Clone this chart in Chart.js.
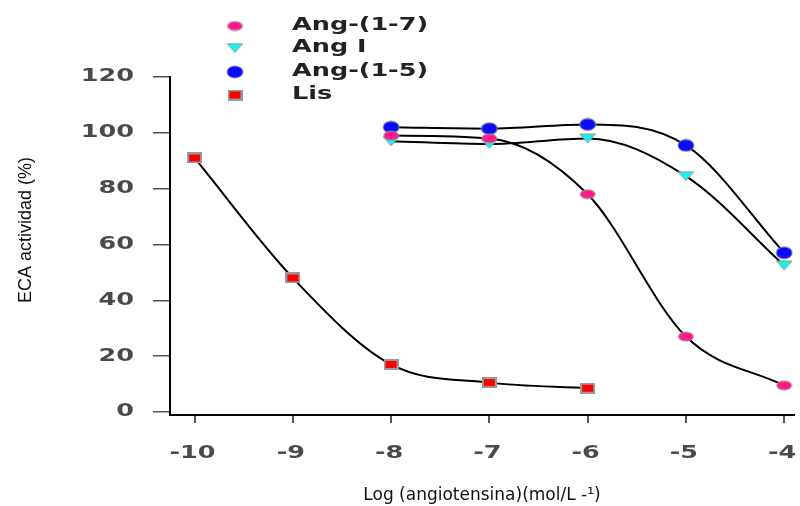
<!DOCTYPE html>
<html>
<head>
<meta charset="utf-8">
<script src="https://cdn.jsdelivr.net/npm/chart.js@4.4.0/dist/chart.umd.min.js"></script>
<style>
  html, body { margin: 0; padding: 0; background: #fff; }
  #wrap { width: 800px; height: 506px; }
</style>
</head>
<body>
<div id="wrap"><canvas id="chart" width="800" height="506"></canvas></div>
<script>
// data
const xTicks = [-10, -9, -8, -7, -6, -5, -4];
const yTicks = [0, 20, 40, 60, 80, 100, 120];

const angDoses = [-8, -7, -6, -5, -4];
const ang17 = [99, 98, 78, 27, 9.5];
const angI = [97, 96, 98, 84.5, 52.5];
const ang15 = [102, 101.5, 103, 95.5, 57];

const lisDoses = [-10, -9, -8, -7, -6];
const lis = [91, 48, 17, 10.5, 8.5];

// the figure is stretched sideways, so text and markers are wide
const SX = 1.5;
const TEXT_FONT = "bold 17px 'DejaVu Sans', Verdana, sans-serif";

// small marker images (wide, like the reference)
function makeMarker(w, h, draw) {
  const c = document.createElement("canvas");
  c.width = w;
  c.height = h;
  const g = c.getContext("2d");
  draw(g, w, h);
  return c;
}
const pinkDot = makeMarker(17, 11, (g, w, h) => {
  g.beginPath();
  g.ellipse(w / 2, h / 2, w / 2 - 1, h / 2 - 1, 0, 0, Math.PI * 2);
  g.fillStyle = "#ff1a8c";
  g.fill();
  g.strokeStyle = "#9a9a9a";
  g.stroke();
});
const cyanTri = makeMarker(18, 11, (g, w, h) => {
  g.beginPath();
  g.moveTo(1, 1);
  g.lineTo(w - 1, 1);
  g.lineTo(w / 2, h - 1);
  g.closePath();
  g.fillStyle = "#19f0f0";
  g.fill();
  g.strokeStyle = "#9a9a9a";
  g.stroke();
});
const blueDot = makeMarker(18, 14, (g, w, h) => {
  g.beginPath();
  g.ellipse(w / 2, h / 2, w / 2 - 1, h / 2 - 1, 0, 0, Math.PI * 2);
  g.fillStyle = "#0a0aff";
  g.fill();
  g.strokeStyle = "#8a8a8a";
  g.stroke();
});
const redBox = makeMarker(15, 11, (g, w, h) => {
  g.fillStyle = "#9a9a9a";
  g.fillRect(0, 0, w, h);
  g.fillStyle = "#ff0000";
  g.fillRect(2, 2, w - 4, h - 4);
});

const pts = (xs, ys) => xs.map((x, i) => ({ x: x, y: ys[i] }));

function series(label, xs, ys, marker) {
  return {
    label: label,
    data: pts(xs, ys),
    borderColor: "#000",
    borderWidth: 2,
    pointStyle: marker,
    cubicInterpolationMode: "monotone",
    clip: false,
  };
}

function wideText(ctx, text, x, y, align) {
  ctx.save();
  ctx.translate(x, y);
  ctx.scale(SX, 1);
  ctx.textAlign = align;
  ctx.fillText(text, 0, 0);
  ctx.restore();
}

// legend block, tick labels and y title
const textLayer = {
  id: "textLayer",
  afterDraw(chart) {
    const ctx = chart.ctx;
    const xs = chart.scales.x;
    const ys = chart.scales.y;
    ctx.save();
    ctx.textBaseline = "middle";

    // legend
    const rows = [26, 48, 72, 95];
    chart.data.datasets.forEach((ds, i) => {
      const img = ds.pointStyle;
      ctx.drawImage(img, 235 - img.width / 2, rows[i] - img.height / 2);
      ctx.fillStyle = "#222";
      ctx.font = TEXT_FONT;
      wideText(ctx, ds.label, 292, rows[i], "left");
    });

    // tick labels
    ctx.fillStyle = "#4a4a4a";
    ctx.font = TEXT_FONT;
    yTicks.forEach((v) => {
      wideText(ctx, String(v), 134, ys.getPixelForValue(v), "right");
    });
    xTicks.forEach((v) => {
      wideText(ctx, String(v), xs.getPixelForValue(v) - 2, 454, "center");
    });

    // y title
    ctx.fillStyle = "#111";
    ctx.font = "18px 'Liberation Sans', Arial, sans-serif";
    ctx.translate(26, 230);
    ctx.rotate(-Math.PI / 2);
    ctx.textAlign = "center";
    ctx.fillText("ECA actividad (%)", 0, 0);
    ctx.restore();
  },
};

const ctx = document.getElementById("chart").getContext("2d");
new Chart(ctx, {
  type: "line",
  data: {
    datasets: [
      series("Ang-(1-7)", angDoses, ang17, pinkDot),
      series("Ang I", angDoses, angI, cyanTri),
      series("Ang-(1-5)", angDoses, ang15, blueDot),
      series("Lis", lisDoses, lis, redBox),
    ],
  },
  options: {
    responsive: false,
    animation: false,
    layout: { padding: { top: 77, left: 0, right: 3, bottom: 0 } },
    plugins: {
      legend: { display: false },
      tooltip: { enabled: false },
    },
    scales: {
      x: {
        type: "linear",
        min: -10.25,
        max: -3.9,
        afterBuildTicks(scale) {
          scale.ticks = xTicks.map((v) => ({ value: v }));
        },
        afterFit(scale) {
          scale.height = 91;
          scale.paddingLeft = 0;
          scale.paddingRight = 0;
        },
        border: { color: "#000", width: 2 },
        grid: { drawOnChartArea: false, color: "#555", tickLength: 8, lineWidth: 2 },
        ticks: { display: false },
        title: {
          display: true,
          text: "Log (angiotensina)(mol/L -\u00B9)",
          color: "#111",
          font: { family: "'DejaVu Sans', Verdana", size: 17 },
          padding: { top: 0, bottom: 0 },
        },
      },
      y: {
        type: "linear",
        min: -1.1,
        max: 120,
        afterBuildTicks(scale) {
          scale.ticks = yTicks.map((v) => ({ value: v }));
        },
        afterFit(scale) { scale.width = 170; },
        border: { color: "#000", width: 2 },
        grid: { drawOnChartArea: false, color: "#555", tickLength: 17, lineWidth: 1.5 },
        ticks: { display: false },
      },
    },
  },
  plugins: [textLayer],
});
</script>
</body>
</html>
